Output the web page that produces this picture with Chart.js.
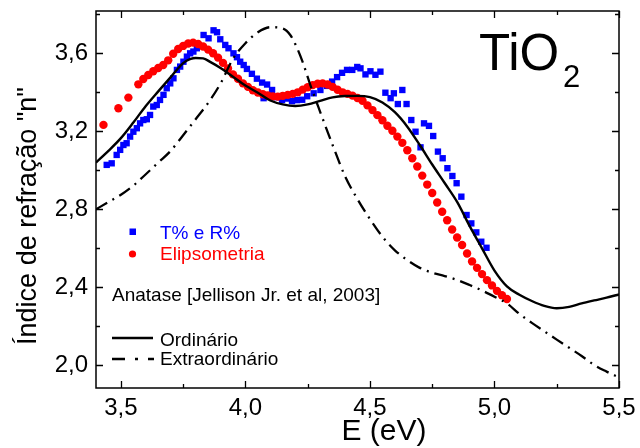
<!DOCTYPE html>
<html><head><meta charset="utf-8">
<script src="https://cdn.jsdelivr.net/npm/chart.js@4.4.1/dist/chart.umd.min.js"></script>
<style>html,body{margin:0;padding:0;background:#fff;}canvas{display:block;}</style>
</head><body>
<canvas id="c" width="640" height="448"></canvas>
<script>
// ---------- data ----------
const xMajorTicks = [3.5, 4.0, 4.5, 5.0, 5.5];
const xMinorTicks = [3.75, 4.25, 4.75, 5.25];
const yMajorTicks = [2.0, 2.4, 2.8, 3.2, 3.6];
const yMinorTicks = [2.2, 2.6, 3.0, 3.4, 3.8];

// T% e R% (blue squares)
const trE = [3.443,3.463,3.483,3.497,3.510,3.523,3.537,3.550,3.564,3.577,3.590,3.604,3.617,3.630,3.644,3.657,3.671,3.684,3.698,3.711,3.725,3.738,3.751,3.765,3.778,3.791,3.805,3.832,3.852,3.872,3.886,3.899,3.919,3.932,3.952,3.966,3.979,3.993,4.006,4.026,4.046,4.067,4.087,4.107,4.073,4.127,4.147,4.167,4.187,4.207,4.228,4.248,4.274,4.301,4.328,4.348,4.368,4.388,4.408,4.429,4.449,4.462,4.482,4.502,4.522,4.542,4.562,4.583,4.596,4.612,4.630,4.647,4.666,4.683,4.703,4.717,4.737,4.754,4.773,4.792,4.811,4.831,4.848,4.867,4.888,4.907,4.927,4.947,4.968];
const trN = [3.028,3.036,3.079,3.105,3.130,3.139,3.173,3.198,3.216,3.241,3.258,3.262,3.284,3.327,3.335,3.361,3.387,3.421,3.446,3.472,3.515,3.532,3.557,3.583,3.600,3.609,3.626,3.694,3.677,3.718,3.708,3.672,3.643,3.626,3.600,3.580,3.557,3.540,3.520,3.495,3.470,3.450,3.440,3.412,3.370,3.375,3.361,3.368,3.355,3.360,3.362,3.380,3.395,3.412,3.433,3.455,3.478,3.500,3.515,3.515,3.530,3.523,3.492,3.508,3.490,3.506,3.398,3.370,3.395,3.340,3.412,3.340,3.258,3.198,3.118,3.241,3.228,3.176,3.096,3.062,3.011,2.971,2.934,2.865,2.771,2.728,2.682,2.634,2.603];

// Elipsometria (red circles)
const elE = [3.43,3.49,3.53,3.57,3.59,3.61,3.63,3.65,3.67,3.69,3.71,3.73,3.75,3.77,3.79,3.81,3.83,3.85,3.87,3.89,3.91,3.93,3.95,3.97,3.99,4.01,4.03,4.05,4.07,4.09,4.11,4.13,4.15,4.17,4.19,4.21,4.23,4.25,4.27,4.29,4.31,4.33,4.35,4.37,4.39,4.41,4.43,4.45,4.47,4.49,4.51,4.53,4.55,4.57,4.59,4.61,4.63,4.65,4.67,4.69,4.71,4.73,4.75,4.77,4.79,4.81,4.83,4.85,4.87,4.89,4.91,4.93,4.95,4.97,4.99,5.01,5.03,5.05];
const elN = [3.233,3.318,3.373,3.441,3.468,3.489,3.508,3.525,3.540,3.564,3.598,3.622,3.638,3.650,3.655,3.648,3.635,3.619,3.600,3.578,3.551,3.522,3.492,3.470,3.446,3.428,3.411,3.399,3.390,3.384,3.379,3.378,3.382,3.387,3.392,3.400,3.414,3.426,3.437,3.444,3.446,3.440,3.428,3.413,3.400,3.392,3.383,3.371,3.357,3.333,3.309,3.283,3.257,3.229,3.203,3.173,3.141,3.103,3.062,3.020,2.973,2.927,2.884,2.835,2.788,2.744,2.697,2.656,2.617,2.574,2.533,2.500,2.468,2.437,2.410,2.382,2.360,2.340];

// Anatase, ordinary (solid)
const ordE = [3.40,3.45,3.50,3.55,3.60,3.65,3.70,3.75,3.78,3.80,3.83,3.86,3.90,3.95,4.00,4.05,4.10,4.15,4.20,4.25,4.30,4.35,4.40,4.45,4.50,4.55,4.60,4.65,4.70,4.75,4.80,4.85,4.90,4.95,5.00,5.05,5.10,5.15,5.20,5.25,5.30,5.35,5.40,5.45,5.50];
const ordN = [3.040,3.100,3.165,3.245,3.330,3.405,3.478,3.550,3.571,3.576,3.574,3.555,3.525,3.480,3.435,3.398,3.358,3.338,3.330,3.338,3.356,3.374,3.381,3.382,3.375,3.348,3.298,3.224,3.130,3.030,2.935,2.838,2.715,2.600,2.486,2.405,2.362,2.330,2.305,2.293,2.300,2.318,2.333,2.347,2.364];

// Anatase, extraordinary (dash-dot)
const extE = [3.40,3.45,3.50,3.55,3.60,3.65,3.70,3.75,3.80,3.85,3.90,3.95,4.00,4.05,4.10,4.15,4.18,4.20,4.23,4.26,4.30,4.35,4.40,4.45,4.50,4.55,4.60,4.65,4.70,4.75,4.80,4.85,4.90,4.95,5.00,5.05,5.10,5.15,5.20,5.25,5.30,5.35,5.40,5.45,5.50];
const extN = [2.800,2.838,2.875,2.922,2.980,3.040,3.100,3.180,3.262,3.345,3.445,3.572,3.652,3.708,3.734,3.727,3.694,3.648,3.555,3.440,3.300,3.130,2.970,2.852,2.750,2.660,2.590,2.540,2.500,2.475,2.458,2.438,2.412,2.384,2.352,2.318,2.264,2.218,2.175,2.132,2.090,2.048,2.002,1.968,1.938];

// ---------- chart ----------
const FONT = "'Liberation Sans', Arial, Helvetica, sans-serif";
const pts = (xs, ys) => xs.map((x, i) => ({x: x, y: ys[i]}));
const fmt = v => Number(v).toFixed(1).replace('.', ',');

const decorPlugin = {
  id: 'decor',
  afterDatasetsDraw(chart) {
    const ctx = chart.ctx, a = chart.chartArea;
    const xs = chart.scales.x, ys = chart.scales.y;
    ctx.save();
    ctx.strokeStyle = '#000';
    ctx.lineWidth = 1.5;
    ctx.strokeRect(a.left, a.top, a.right - a.left, a.bottom - a.top);
    ctx.lineWidth = 1.3;
    const tick = (vals, len, horiz) => {
      vals.forEach(v => {
        ctx.beginPath();
        if (horiz) {
          const p = Math.round(xs.getPixelForValue(v)) + 0.5;
          ctx.moveTo(p, a.bottom); ctx.lineTo(p, a.bottom - len);
          ctx.moveTo(p, a.top); ctx.lineTo(p, a.top + len);
        } else {
          const p = Math.round(ys.getPixelForValue(v)) + 0.5;
          ctx.moveTo(a.left, p); ctx.lineTo(a.left + len, p);
          ctx.moveTo(a.right, p); ctx.lineTo(a.right - len, p);
        }
        ctx.stroke();
      });
    };
    tick(xMajorTicks, 7, true); tick(xMinorTicks, 4, true);
    tick(yMajorTicks, 7, false); tick(yMinorTicks, 4, false);

    // TiO2 label
    ctx.fillStyle = '#000';
    ctx.textBaseline = 'alphabetic';
    ctx.textAlign = 'left';
    ctx.font = '51px ' + FONT;
    ctx.fillText('TiO', 479, 70);
    ctx.font = '31px ' + FONT;
    ctx.fillText('2', 563, 87);

    // legend
    ctx.font = '19px ' + FONT;
    ctx.fillStyle = '#0000ff';
    ctx.fillRect(129.5, 228.5, 6.5, 6.5);
    ctx.fillText('T% e R%', 160, 238.5);
    ctx.fillStyle = '#ff0000';
    ctx.beginPath(); ctx.arc(132.5, 254, 3.6, 0, Math.PI * 2); ctx.fill();
    ctx.fillText('Elipsometria', 160, 260);
    ctx.fillStyle = '#000';
    ctx.fillText('Anatase [Jellison Jr. et al, 2003]', 112, 301);
    ctx.lineWidth = 2.3;
    ctx.beginPath(); ctx.moveTo(112, 338); ctx.lineTo(153, 338); ctx.stroke();
    ctx.fillText('Ordinário', 160, 345.5);
    ctx.beginPath();
    ctx.moveTo(112, 359); ctx.lineTo(125, 359);
    ctx.moveTo(135, 359); ctx.lineTo(138, 359);
    ctx.moveTo(148, 359); ctx.lineTo(154, 359);
    ctx.stroke();
    ctx.fillText('Extraordinário', 160, 365);

    // axis titles
    ctx.font = '30px ' + FONT;
    ctx.textAlign = 'center';
    ctx.fillText('E (eV)', 384, 440);
    ctx.translate(36, 216);
    ctx.rotate(-Math.PI / 2);
    ctx.font = '27px ' + FONT;
    ctx.fillText('Índice de refração "n"', 0, 0);
    ctx.restore();
  }
};

new Chart(document.getElementById('c'), {
  type: 'scatter',
  data: {
    datasets: [
      {label: 'Ordinário', data: pts(ordE, ordN), showLine: true, borderColor: '#000', borderWidth: 2.4,
       pointRadius: 0, cubicInterpolationMode: 'monotone', fill: false, order: 1},
      {label: 'Extraordinário', data: pts(extE, extN), showLine: true, borderColor: '#000', borderWidth: 2.3,
       borderDash: [13, 6, 2, 6], pointRadius: 0, cubicInterpolationMode: 'monotone', fill: false, order: 2},
      {label: 'Elipsometria', data: pts(elE, elN), showLine: false, pointStyle: 'circle', pointRadius: 4.2,
       backgroundColor: '#ff0000', borderWidth: 0, order: 3},
      {label: 'T% e R%', data: pts(trE, trN), showLine: false, pointStyle: 'rect', pointRadius: 4.5,
       backgroundColor: '#0000ff', borderWidth: 0, order: 4}
    ]
  },
  options: {
    responsive: false, animation: false, devicePixelRatio: 1,
    layout: {padding: {left: 0, right: 21, top: 11, bottom: 0}},
    plugins: {legend: {display: false}, tooltip: {enabled: false}},
    events: [],
    scales: {
      x: {
        type: 'linear', min: 3.4, max: 5.5,
        grid: {display: false, drawTicks: false}, border: {display: false},
        afterBuildTicks: s => { s.ticks = xMajorTicks.map(v => ({value: v})); },
        afterFit: s => { s.height = 60; s.paddingLeft = 0; s.paddingRight = 0; },
        ticks: {font: {family: FONT, size: 24}, color: '#000', padding: 6, maxRotation: 0, autoSkip: false,
                callback: v => fmt(v)}
      },
      y: {
        type: 'linear', min: 1.884, max: 3.817,
        grid: {display: false, drawTicks: false}, border: {display: false},
        afterBuildTicks: s => { s.ticks = yMajorTicks.map(v => ({value: v})); },
        afterFit: s => { s.width = 96; s.paddingTop = 0; s.paddingBottom = 0; },
        ticks: {font: {family: FONT, size: 24}, color: '#000', padding: 8, autoSkip: false,
                callback: v => fmt(v)}
      }
    }
  },
  plugins: [decorPlugin]
});
</script>
</body></html>
